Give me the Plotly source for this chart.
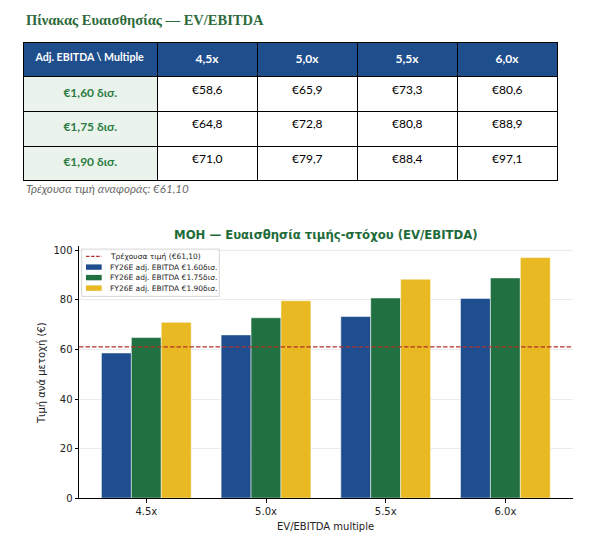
import plotly.graph_objects as go

OFF = 8      # page body margin
K = 0.987    # observed vertical squeeze of the photographed page
W, H = 603 - OFF, 545 - OFF

# ---- data ----
multiples = [4.5, 5.0, 5.5, 6.0]
ebitda_bn = [1.60, 1.75, 1.90]
price_160 = [58.6, 65.9, 73.3, 80.6]
price_175 = [64.8, 72.8, 80.8, 88.9]
price_190 = [71.0, 79.7, 88.4, 97.1]
current_price = 61.10

series = [price_160, price_175, price_190]
colors = ["#1f4e8f", "#217042", "#e8b923"]
red = "#b5312a"

def px(x):
    return (x - OFF) / W

def py(y):
    return 1 - (y / K - OFF) / H

def comma(v, d=1):
    return f"{v:.{d}f}".replace(".", ",")

fig = go.Figure()

# ---- table ----
header_vals = ["<b>Adj. EBITDA \\ Multiple</b>"] + [f"<b>{comma(m)}x</b>" for m in multiples]
first_col = [f"<b>€{comma(e, 2)} δισ.</b>" for e in ebitda_bn]
cols = [first_col]
for j in range(len(multiples)):
    cols.append([f"€{comma(s[j])}" for s in series])

fig.add_trace(go.Table(
    domain=dict(x=[px(23.3), px(557.7)], y=[py(184), py(41.5)]),
    columnwidth=[134, 100, 100, 100, 100],
    header=dict(values=header_vals, fill_color="#1f4e8c",
                font=dict(family="Lato", size=[10.6, 12, 12, 12, 12], color="white"),
                line=dict(color="black", width=1), align="center", height=34.2),
    cells=dict(values=cols,
               fill_color=[["#eaf3ec"] * 3] + [["white"] * 3] * 4,
               font=dict(family="Lato", size=12,
                         color=[["#2e7d46"] * 3] + [["black"] * 3] * 4),
               line=dict(color="black", width=1), align="center", height=34.6),
))

# ---- bars ----
xlabels = [f"{m:.1f}x" for m in multiples]
for s, e, c in zip(series, ebitda_bn, colors):
    fig.add_trace(go.Bar(x=xlabels, y=s, name=f"FY26E adj. EBITDA €{e:.2f}δισ.",
                         marker=dict(color=c, line=dict(color="white", width=0.5)),
                         showlegend=False))

fig.add_shape(type="line", xref="x domain", yref="y", x0=0, x1=1,
              y0=current_price, y1=current_price,
              line=dict(color=red, width=1.2, dash="4.5px,2px"))

# ---- manual legend ----
lg_left, lg_top, lg_right, lg_bottom = 81.7, 248, 219.3, 295.3
fig.add_shape(type="rect", xref="paper", yref="paper",
              x0=px(lg_left), x1=px(lg_right), y0=py(lg_bottom), y1=py(lg_top),
              line=dict(color="#cccccc", width=0.8), fillcolor="rgba(255,255,255,0.8)")
row_y = [255.3, 266, 276.5, 287]
labels = [f"Τρέχουσα τιμή (€{comma(current_price, 2)})"] + \
         [f"FY26E adj. EBITDA €{e:.2f}δισ." for e in ebitda_bn]
for i, (yy, lab) in enumerate(zip(row_y, labels)):
    if i == 0:
        fig.add_shape(type="line", xref="paper", yref="paper",
                      x0=px(86), x1=px(101.7), y0=py(yy), y1=py(yy),
                      line=dict(color=red, width=1.2, dash="3.5px,1.6px"))
    else:
        fig.add_shape(type="rect", xref="paper", yref="paper",
                      x0=px(86), x1=px(101.7), y0=py(yy + 2.7), y1=py(yy - 2.7),
                      line=dict(width=0), fillcolor=colors[i - 1])
    fig.add_annotation(x=px(107.5), y=py(yy), xref="paper", yref="paper",
                       text=lab, showarrow=False, xanchor="left", yanchor="middle",
                       font=dict(family="DejaVu Sans", size=7.5, color="#222222"))

# ---- texts ----
fig.add_annotation(x=px(23.5), y=py(19), xref="paper", yref="paper",
                   text="<b>Πίνακας Ευαισθησίας — EV/EBITDA</b>", showarrow=False,
                   xanchor="left", yanchor="middle",
                   font=dict(family="Liberation Serif", size=14.5, color="#2e6b3c"))
fig.add_annotation(x=px(23.5), y=py(187), xref="paper", yref="paper",
                   text=f"<i>Τρέχουσα τιμή αναφοράς: €{comma(current_price, 2)}</i>",
                   showarrow=False, xanchor="left", yanchor="middle",
                   font=dict(family="Lato", size=11.6, color="#6b6b6b"))
fig.add_annotation(x=px(325.8), y=py(234), xref="paper", yref="paper",
                   text="<b>MOH — Ευαισθησία τιμής-στόχου (EV/EBITDA)</b>", showarrow=False,
                   xanchor="center", yanchor="middle",
                   font=dict(family="DejaVu Sans", size=11.7, color="#1e6b3a"))
fig.add_annotation(x=px(41), y=py(372), xref="paper", yref="paper",
                   text="Τιμή ανά μετοχή (€)", showarrow=False, textangle=-90,
                   xanchor="center", yanchor="middle",
                   font=dict(family="DejaVu Sans", size=10, color="#222222"))
fig.add_annotation(x=px(325.8), y=py(525), xref="paper", yref="paper",
                   text="EV/EBITDA multiple", showarrow=False,
                   xanchor="center", yanchor="middle",
                   font=dict(family="DejaVu Sans", size=10, color="#222222"))

fig.update_layout(
    width=W, height=H, margin=dict(l=0, r=0, t=0, b=0),
    paper_bgcolor="white", plot_bgcolor="white",
    barmode="group", bargap=0.25, bargroupgap=0,
    showlegend=False,
    xaxis=dict(domain=[px(79), px(572.7)], range=[-0.5625, 3.5625],
               showline=True, linecolor="black", linewidth=1,
               ticks="outside", ticklen=3.5, tickcolor="black",
               tickfont=dict(family="DejaVu Sans", size=10, color="#222222"),
               showgrid=False, zeroline=False, anchor="y"),
    yaxis=dict(domain=[py(497), py(244.5)], range=[0, 101.955],
               tickvals=[0, 20, 40, 60, 80, 100],
               showline=True, linecolor="black", linewidth=1,
               ticks="outside", ticklen=3.5, tickcolor="black",
               tickfont=dict(family="DejaVu Sans", size=10, color="#222222"),
               showgrid=True, gridcolor="#ebebeb", gridwidth=1, zeroline=False,
               anchor="x"),
)

fig.write_html("out.html")
